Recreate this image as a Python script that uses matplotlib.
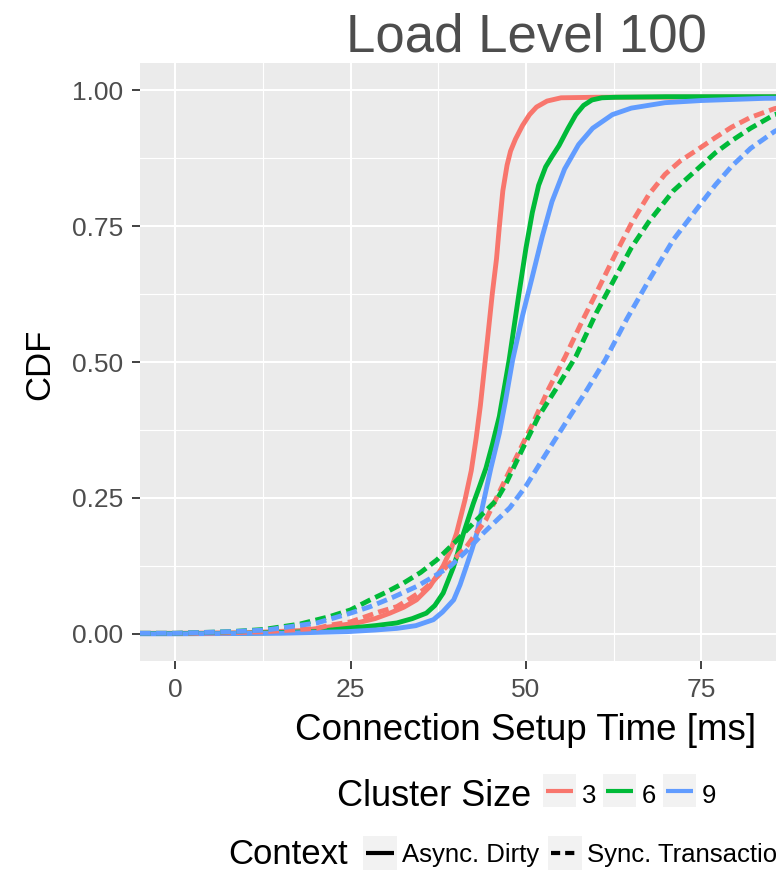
import matplotlib
matplotlib.use("Agg")
import matplotlib.pyplot as plt
from matplotlib.lines import Line2D
from matplotlib.patches import Rectangle

plt.rcParams['font.family'] = ['Liberation Sans', 'DejaVu Sans']

# CDF curves (x in ms, y = CDF)
red_solid_x = [-5, 0, 10, 18, 22.1, 25.9, 28.5, 30.6, 32.6, 34.4, 36.3, 38.2, 39.3, 40.1, 41.3, 42.2, 42.9,
               43.5, 44.0, 44.5, 45.2, 45.8, 46.2, 46.7, 47.3, 47.8, 48.5, 49.5, 50.5, 51.5, 53, 55, 60, 105]
red_solid_y = [0.001, 0.001, 0.002, 0.006, 0.013, 0.020, 0.028, 0.038, 0.049, 0.0625, 0.087, 0.125, 0.155, 0.185,
               0.246, 0.30, 0.36, 0.42, 0.48, 0.54, 0.626, 0.69, 0.749, 0.815, 0.862, 0.888, 0.91, 0.935, 0.955,
               0.969, 0.980, 0.986, 0.987, 0.988]

green_solid_x = [-5, 0, 10, 20, 24.5, 28.5, 31.6, 33.8, 35.8, 37.0, 38.2, 39.7, 41.1, 42.5, 43.4, 44.3, 45.2,
                 46.2, 47.6, 48.3, 49.0, 50.0, 50.9, 51.8, 52.8, 53.7, 54.7, 56, 57.1, 58.2, 59.4, 60.8, 62.7, 70, 105]
green_solid_y = [0.0005, 0.0005, 0.001, 0.004, 0.010, 0.015, 0.020, 0.028, 0.038, 0.052, 0.075, 0.124, 0.185,
                 0.240, 0.272, 0.305, 0.348, 0.40, 0.504, 0.565, 0.626, 0.71, 0.775, 0.825, 0.859, 0.878, 0.898,
                 0.93, 0.955, 0.972, 0.982, 0.986, 0.987, 0.988, 0.988]

blue_solid_x = [-5, 0, 15, 24.5, 28.5, 31.6, 34.3, 36.8, 38.1, 39.7, 40.6, 41.5, 42.3, 43.0, 43.9, 45.0, 46.2,
                47.1, 48.1, 49.5, 50.9, 52.3, 53.7, 55.5, 57.5, 59.5, 62.3, 65, 69.8, 75, 84, 105]
blue_solid_y = [0.0, 0.0, 0.001, 0.004, 0.007, 0.010, 0.015, 0.026, 0.040, 0.0625, 0.09, 0.124, 0.155, 0.185,
                0.240, 0.305, 0.369, 0.43, 0.504, 0.585, 0.657, 0.73, 0.795, 0.855, 0.900, 0.930, 0.955, 0.967,
                0.977, 0.981, 0.985, 0.987]

red_dash_x = [-5, 0, 8, 13, 20.2, 22.1, 25, 26.8, 29, 31.6, 33.5, 35.4, 37, 38.7, 41.5, 44.3, 47.1, 49, 50.9,
              53.2, 55.6, 58, 60.4, 62.8, 65.1, 67.5, 69.8, 72, 74.6, 77, 79.3, 82, 85.4, 92, 105]
red_dash_y = [0.0005, 0.0005, 0.002, 0.004, 0.010, 0.016, 0.022, 0.030, 0.040, 0.050, 0.065, 0.081, 0.100,
              0.124, 0.16, 0.210, 0.285, 0.335, 0.385, 0.45, 0.51, 0.575, 0.637, 0.70, 0.757, 0.808, 0.845,
              0.870, 0.892, 0.913, 0.932, 0.950, 0.966, 0.982, 0.988]

green_dash_x = [-5, 0, 8, 12.6, 17.8, 22.1, 25, 27.8, 30, 32.5, 35, 37.3, 40, 43.0, 45.8, 47.1, 49.5, 51.8,
                54.5, 57.1, 60, 62.7, 65, 67.5, 71, 74.6, 77, 79.3, 82, 85.4, 92, 105]
green_dash_y = [0.001, 0.001, 0.004, 0.008, 0.018, 0.032, 0.044, 0.0625, 0.076, 0.093, 0.113, 0.136, 0.17,
                0.21, 0.246, 0.275, 0.34, 0.40, 0.455, 0.510, 0.59, 0.655, 0.71, 0.758, 0.815, 0.857, 0.885,
                0.907, 0.93, 0.955, 0.978, 0.987]

blue_dash_x = [-5, 0, 8, 13, 20.2, 25, 27.8, 31, 34.4, 36.8, 39.2, 41.5, 43.9, 47.7, 50.0, 52.8, 55.6, 58.5,
               61.3, 64.4, 67.5, 71, 74.6, 77, 79.3, 82, 85.4, 92, 105]
blue_dash_y = [0.001, 0.001, 0.004, 0.007, 0.020, 0.038, 0.050, 0.067, 0.087, 0.105, 0.124, 0.152, 0.185,
               0.232, 0.272, 0.33, 0.387, 0.445, 0.504, 0.58, 0.650, 0.725, 0.786, 0.826, 0.860, 0.893, 0.924,
               0.965, 0.985]

cluster_sizes = ['3', '6', '9']
cluster_colors = ['#F8766D', '#00BA38', '#619CFF']
contexts = ['Async. Dirty', 'Sync. Transaction']
x_ticks = [0, 25, 50, 75, 100]
y_ticks = [0.0, 0.25, 0.5, 0.75, 1.0]
y_tick_labels = ['0.00', '0.25', '0.50', '0.75', '1.00']

W, H = 776, 872
def fx(px):
    return px / W
def fy(py):
    return 1 - py / H

fig = plt.figure(figsize=(W / 100, H / 100), dpi=100)
# panel runs past the right edge of the picture (the original is cropped)
ax = fig.add_axes([fx(140), fy(661), 772 / W, 598 / H])
ax.set_facecolor('#EBEBEB')
for s in ax.spines.values():
    s.set_visible(False)

lw = 3.5
dash = (2.2, 1.1)
solid = [(red_solid_x, red_solid_y), (green_solid_x, green_solid_y), (blue_solid_x, blue_solid_y)]
dashed = [(red_dash_x, red_dash_y), (green_dash_x, green_dash_y), (blue_dash_x, blue_dash_y)]
for (xs, ys), c in zip(solid, cluster_colors):
    ax.plot(xs, ys, color=c, lw=lw, solid_capstyle='butt', solid_joinstyle='round', zorder=3)
for (xs, ys), c in zip(dashed, cluster_colors):
    ax.plot(xs, ys, color=c, lw=lw, dashes=dash, dash_capstyle='butt', dash_joinstyle='round', zorder=3)

ax.set_xlim(-5, 105)
ax.set_ylim(-0.05, 1.05)
ax.set_xticks(x_ticks)
ax.set_yticks(y_ticks)
ax.set_yticklabels(y_tick_labels)
ax.set_xticks([12.5, 37.5, 62.5, 87.5], minor=True)
ax.set_yticks([0.125, 0.375, 0.625, 0.875], minor=True)
ax.grid(True, which='major', color='white', lw=1.5, zorder=1)
ax.grid(True, which='minor', color='white', lw=0.8, zorder=1)
ax.set_axisbelow(True)
ax.tick_params(which='major', length=6, width=1.3, color='#333333', labelsize=19,
               labelcolor='#4D4D4D', pad=6)
ax.tick_params(which='minor', length=0)

ax.set_title('Load Level 100', fontsize=38, color='#4D4D4D', pad=8)
fig.text(fx(526), fy(740), 'Connection Setup Time [ms]', fontsize=26.5,
         ha='center', va='baseline')
fig.text(fx(40), fy(364), 'CDF', fontsize=25, rotation=90, ha='center', va='center')

# legend: Cluster Size
fig.text(fx(531), fy(806), 'Cluster Size', fontsize=26, ha='right', va='baseline')
key_left = [543, 603, 663]
for k, lab, c in zip(key_left, cluster_sizes, cluster_colors):
    fig.add_artist(Rectangle((fx(k), fy(807)), 33 / W, 33 / H, transform=fig.transFigure,
                             facecolor='#F2F2F2', edgecolor='none'))
    fig.add_artist(Line2D([fx(k + 3), fx(k + 30)], [fy(791), fy(791)], transform=fig.transFigure,
                          color=c, lw=3, solid_capstyle='butt'))
    fig.text(fx(k + 39), fy(803), lab, fontsize=18.5, ha='left', va='baseline')

# legend: Context (bottom row is cut by the picture edge, as in the original)
fig.text(fx(348), fy(864), 'Context', fontsize=25, ha='right', va='baseline')
ctx_left = [363, 548]
for i, (k, lab) in enumerate(zip(ctx_left, contexts)):
    fig.add_artist(Rectangle((fx(k), fy(870)), 34 / W, 34 / H, transform=fig.transFigure,
                             facecolor='#F2F2F2', edgecolor='none'))
    ln = Line2D([fx(k + 3), fx(k + 31)], [fy(853), fy(853)], transform=fig.transFigure,
                color='black', lw=3, solid_capstyle='butt', dash_capstyle='butt')
    if i == 1:
        ln.set_dashes((2.2, 1.2))
    fig.add_artist(ln)
    fig.text(fx(k + 39), fy(862), lab, fontsize=18.5, ha='left', va='baseline')

fig.savefig('out.png', dpi=100)
